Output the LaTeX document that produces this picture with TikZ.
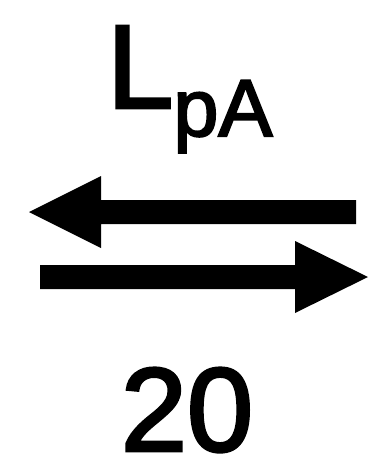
\documentclass[tikz,border=0pt]{standalone}
\usepackage{fontspec}
\setmainfont{Liberation Sans}
\newfontface\heavyfont{Liberation Sans}[FakeBold=2.5]
\usepackage{tikz}
\usetikzlibrary{positioning}

\begin{document}
\begin{tikzpicture}[x=1pt,y=-1pt]
  \tikzstyle{bigtext}=[inner sep=0pt,anchor=base west,font=\heavyfont\fontsize{119}{119}\selectfont]
  \tikzstyle{arrowfill}=[fill=black,draw=none]

  \useasboundingbox (0,0) rectangle (374,469);

  % label on top
  \node[bigtext] (lbl) at (107,108) {L\raisebox{-28pt}{\fontsize{81}{81}\selectfont pA}};

  % the two arrows
  \coordinate (lefttip) at (29,212);
  \coordinate (righttip) at (368,277);
  \fill[arrowfill] (356,200) -- (101,200) -- (101,176) -- (lefttip) -- (101,248) -- (101,224) -- (356,224) -- cycle;
  \fill[arrowfill] (40,265) -- (295,265) -- (295,241) -- (righttip) -- (295,313) -- (295,289) -- (40,289) -- cycle;

  % value below
  \node[bigtext,anchor=base] (val) at (187,451) {20};
\end{tikzpicture}
\end{document}
